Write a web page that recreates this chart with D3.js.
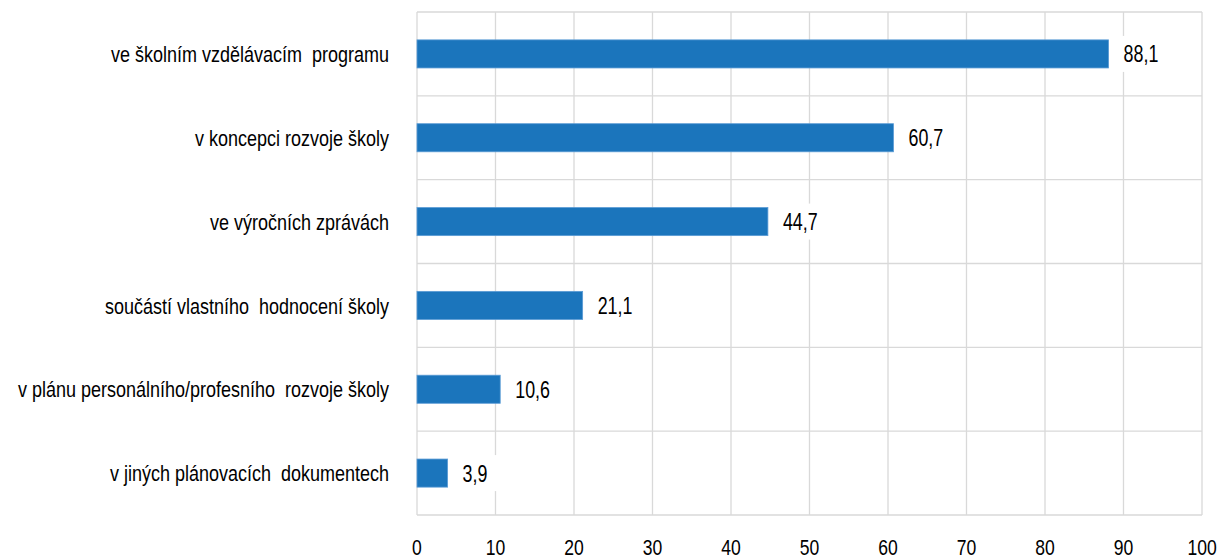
<!DOCTYPE html>
<html>
<head>
<meta charset="utf-8">
<script src="https://cdn.jsdelivr.net/npm/d3@7"></script>
<style>
  body { margin: 0; background: #fff; }
  text { font-family: "Liberation Sans", Arial, sans-serif; white-space: pre; }
</style>
</head>
<body>
<svg id="plotarea"></svg>
<script>
var categories = [
    "ve školním vzdělávacím  programu",
    "v koncepci rozvoje školy",
    "ve výročních zprávách",
    "součástí vlastního  hodnocení školy",
    "v plánu personálního/profesního  rozvoje školy",
    "v jiných plánovacích  dokumentech"
];
var values = [88.1, 60.7, 44.7, 21.1, 10.6, 3.9];
var ticks = [0, 10, 20, 30, 40, 50, 60, 70, 80, 90, 100];

var width = 1218, height = 558;
var margin = {top: 12, right: 16, bottom: 43, left: 417};
var squeeze = 0.76; // condensed look

var svg = d3.select("#plotarea")
    .attr("width", width)
    .attr("height", height);

var x = d3.scaleLinear()
    .domain([0, 100])
    .range([margin.left, width - margin.right]);

var y = d3.scaleBand()
    .domain(categories)
    .range([margin.top, height - margin.bottom])
    .paddingInner(0)
    .paddingOuter(0);

var barH = y.bandwidth() * 0.335;

// vertical gridlines
svg.append("g").selectAll("line")
    .data(ticks)
    .enter().append("line")
    .attr("x1", function(d) { return x(d); })
    .attr("x2", function(d) { return x(d); })
    .attr("y1", margin.top)
    .attr("y2", height - margin.bottom)
    .attr("stroke", "#d9d9d9")
    .attr("stroke-width", 1.3);

// horizontal gridlines between categories
var bounds = categories.map(function(c) { return y(c); });
bounds.push(height - margin.bottom);
svg.append("g").selectAll("line")
    .data(bounds)
    .enter().append("line")
    .attr("x1", x(0))
    .attr("x2", x(100))
    .attr("y1", function(d) { return d; })
    .attr("y2", function(d) { return d; })
    .attr("stroke", "#d9d9d9")
    .attr("stroke-width", 1.3);

// bars
svg.append("g").selectAll("rect")
    .data(values)
    .enter().append("rect")
    .attr("x", x(0))
    .attr("y", function(d, i) { return y(categories[i]) + (y.bandwidth() - barH) / 2; })
    .attr("width", function(d) { return x(d) - x(0); })
    .attr("height", barH)
    .attr("fill", "#1b75bc")
    .attr("stroke", "#5b9bd5")
    .attr("stroke-width", 0.8);

// value labels with white background
var lab = svg.append("g").selectAll("g")
    .data(values)
    .enter().append("g")
    .attr("transform", function(d, i) {
        return "translate(" + (x(d) + 15) + "," + (y(categories[i]) + y.bandwidth() / 2) + ")";
    });
lab.append("rect")
    .attr("x", -5)
    .attr("y", -18)
    .attr("width", 46)
    .attr("height", 36)
    .attr("fill", "#fff");
lab.append("text")
    .attr("transform", "scale(" + squeeze + ",1)")
    .attr("dy", "0.36em")
    .attr("font-size", 23.5)
    .attr("fill", "#000")
    .text(function(d) { return d.toFixed(1).replace(".", ","); });

// category labels
svg.append("g").selectAll("g")
    .data(categories)
    .enter().append("g")
    .attr("transform", function(d) {
        return "translate(389," + (y(d) + y.bandwidth() / 2) + ")";
    })
    .append("text")
    .attr("transform", "scale(0.8,1)")
    .attr("dy", "0.36em")
    .attr("text-anchor", "end")
    .attr("font-size", 22.5)
    .attr("fill", "#000")
    .text(function(d) { return d; });

// x axis tick labels
svg.append("g").selectAll("g")
    .data(ticks)
    .enter().append("g")
    .attr("transform", function(d) { return "translate(" + x(d) + ",546.5)"; })
    .append("text")
    .attr("transform", "scale(0.78,1)")
    .attr("dy", "0.36em")
    .attr("text-anchor", "middle")
    .attr("font-size", 22.5)
    .attr("fill", "#000")
    .text(function(d) { return d; });
</script>
</body>
</html>
